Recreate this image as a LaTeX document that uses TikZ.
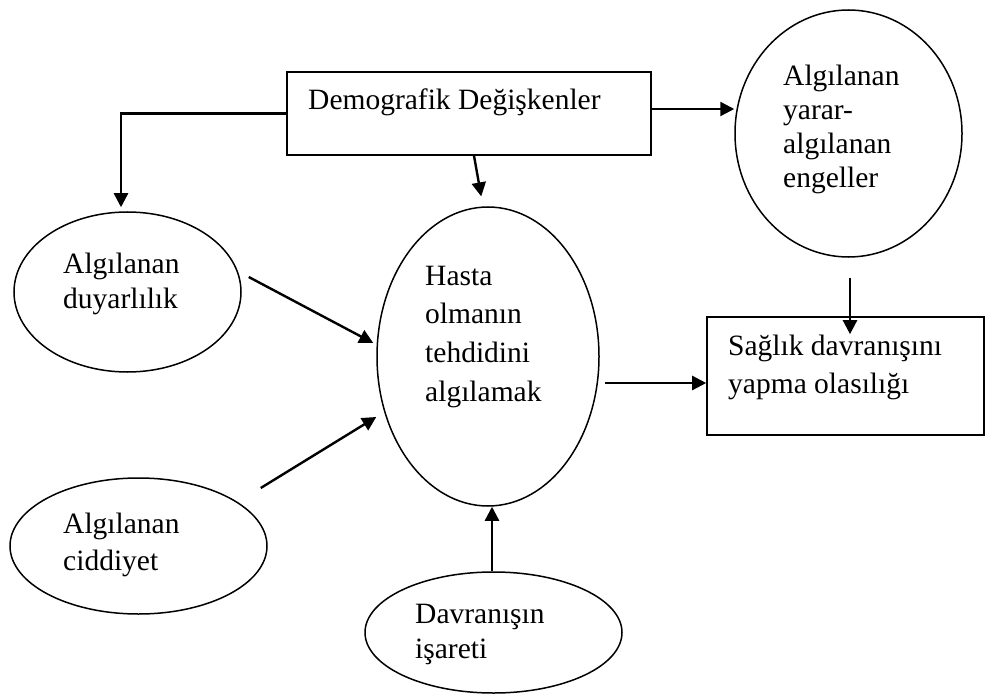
\documentclass[tikz,border=0pt]{standalone}
\usepackage{fontspec}
\setmainfont{Liberation Serif}
\usetikzlibrary{shapes.geometric,arrows.meta}
\newcommand{\mylines}[2]{{\fontsize{29.5}{#1}\selectfont\begin{tabular}[t]{@{}l@{}}#2\end{tabular}}}
\begin{document}
\begin{tikzpicture}[x=1pt,y=-1pt,
  box/.style={draw,line width=1.6pt,rectangle,inner sep=0pt},
  ell/.style={draw,line width=1.5pt,ellipse,inner sep=0pt},
  txt/.style={anchor=base west,inner sep=0pt,font=\fontsize{29.5}{35}\selectfont},
  arr/.style={line width=2.4pt,-{Triangle[length=14pt,width=14pt]}}]
\useasboundingbox (0,0) rectangle (985,695);
% shapes
\node[box,minimum width=364pt,minimum height=83pt] (demo) at (469,113.5) {};
\node[box,minimum width=277pt,minimum height=118pt] (saglik) at (845.5,376) {};
\node[ell,minimum width=227pt,minimum height=247pt] (yarar) at (848.5,133.5) {};
\node[ell,minimum width=227pt,minimum height=160pt] (duyar) at (127.5,292) {};
\node[ell,minimum width=222pt,minimum height=299pt] (hasta) at (488,356.5) {};
\node[ell,minimum width=257pt,minimum height=136pt] (cidd) at (138.5,546) {};
\node[ell,minimum width=257pt,minimum height=121pt] (davr) at (493.5,632.5) {};
% texts
\node[txt] (tdemo) at (308,110) {Demografik Değişkenler};
\node[txt] (tyarar) at (783,86) {\mylines{33.7}{Algılanan\\yarar-\\algılanan\\engeller}};
\node[txt] (tduyar) at (63,273) {\mylines{35}{Algılanan\\duyarlılık}};
\node[txt] (thasta) at (425,285) {\mylines{38.8}{Hasta\\olmanın\\tehdidini\\algılamak}};
\node[txt] (tsaglik) at (728,355) {\mylines{38}{Sağlık davranışını\\yapma olasılığı}};
\node[txt] (tcidd) at (63,533) {\mylines{37}{Algılanan\\ciddiyet}};
\node[txt] (tdavr) at (415,623) {\mylines{35}{Davranışın\\işareti}};
% connectors
\draw[arr,shorten >=4pt] (demo.west) -| ([xshift=-6.5pt]duyar.north);
\draw[arr,shorten >=10pt] ([xshift=5pt]demo.south) -- ([xshift=-5pt]hasta.north);
\draw[arr] ([yshift=4.5pt]demo.east) -- ([yshift=4.5pt]demo.east -| yarar.west);
\draw[arr,shorten >=2pt] ([shift={(1.5,20)}]yarar.south) -- ([shift={(1.5,20)}]yarar.south |- saglik.north);
\draw[arr] ([shift={(7,-15)}]duyar.east) -- ([shift={(-3,-13.5)}]hasta.west);
\draw[arr] ([shift={(-7,-58)}]cidd.east) -- ([shift={(0,60.5)}]hasta.west);
\draw[arr,shorten >=5pt] ([shift={(5,26.5)}]hasta.east) -- ([shift={(5,26.5)}]hasta.east -| saglik.west);
\draw[arr] ([xshift=-1.5pt]davr.north) -- ([xshift=-1.5pt]davr.north |- hasta.south);
\end{tikzpicture}
\end{document}
